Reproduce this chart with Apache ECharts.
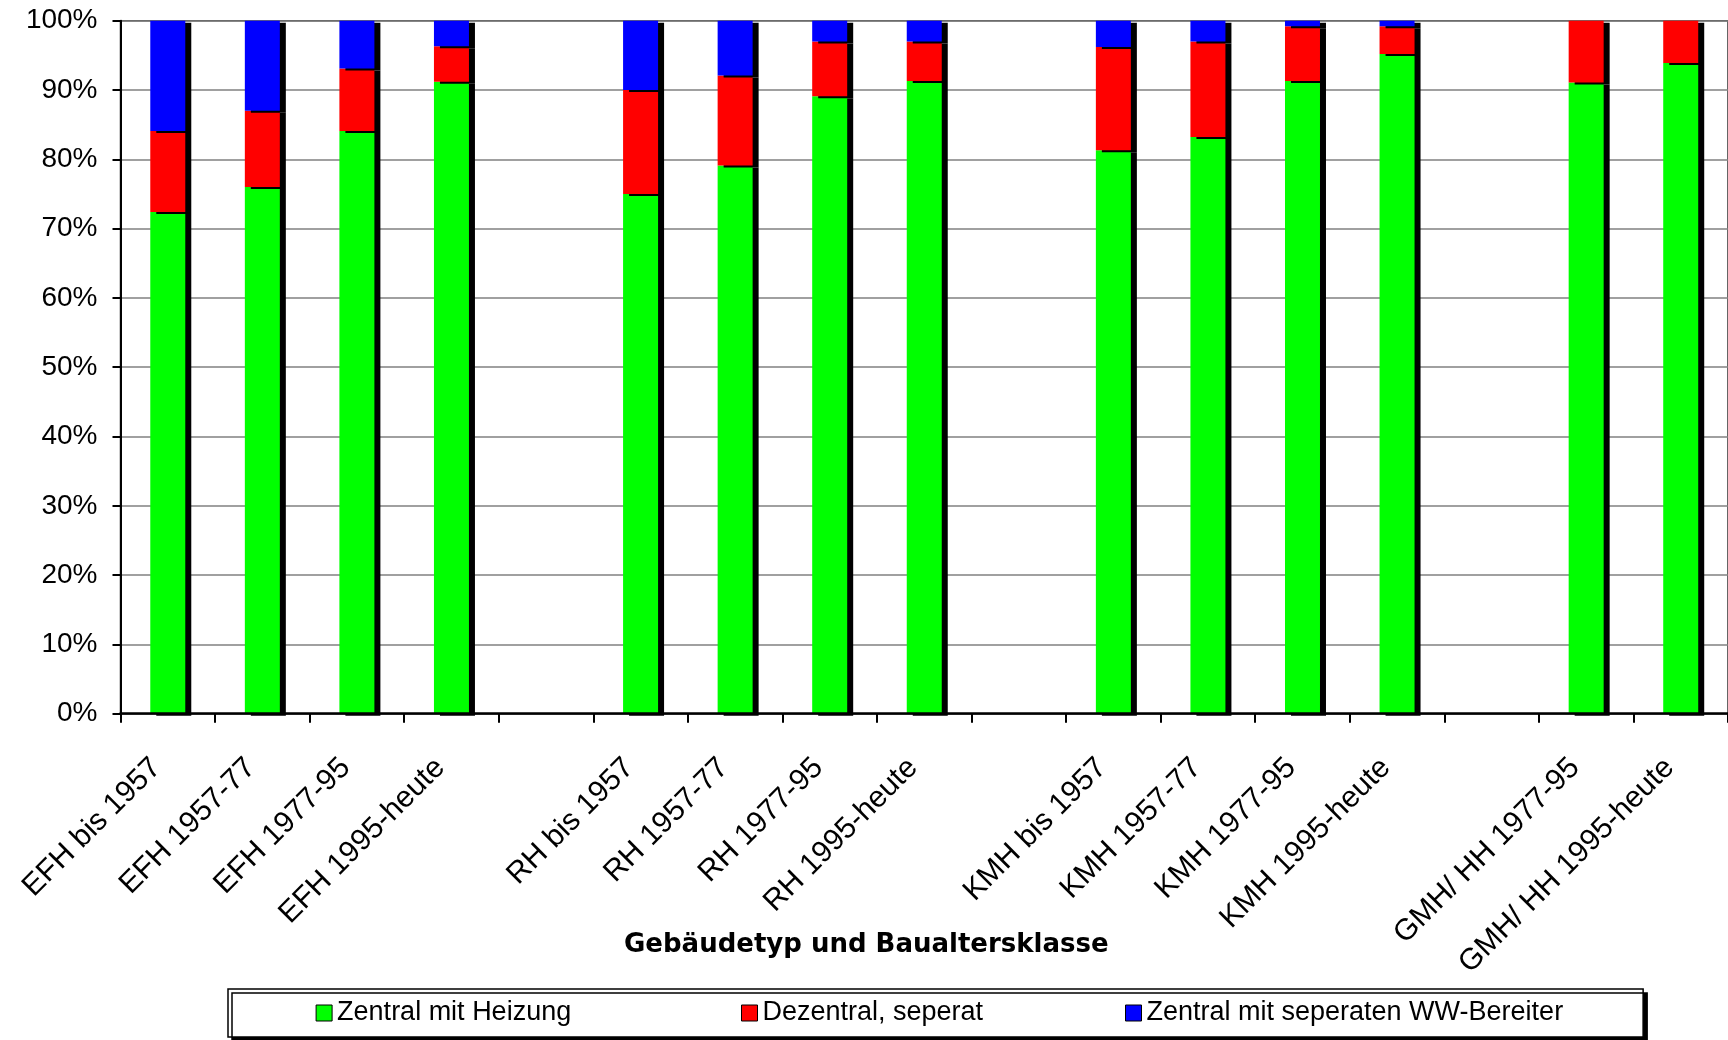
<!DOCTYPE html>
<html>
<head>
<meta charset="utf-8">
<title>Warmwasserbereitung nach Gebäudetyp und Baualtersklasse</title>
<script src="https://cdn.jsdelivr.net/npm/echarts@6/dist/echarts.min.js"></script>
<style>
  html, body { margin: 0; padding: 0; background: #fff; }
  #chart { width: 1728px; height: 1040px; }
</style>
</head>
<body>
<div id="chart"></div>
<script>
// Building type / construction period; empty slots separate the groups
const categories = [
  'EFH bis 1957', 'EFH 1957-77', 'EFH 1977-95', 'EFH 1995-heute', '',
  'RH bis 1957', 'RH 1957-77', 'RH 1977-95', 'RH 1995-heute', '',
  'KMH bis 1957', 'KMH 1957-77', 'KMH 1977-95', 'KMH 1995-heute', '',
  'GMH/ HH 1977-95', 'GMH/ HH 1995-heute'
];

const seriesNames = [
  'Zentral mit Heizung',
  'Dezentral, seperat',
  'Zentral mit seperaten WW-Bereiter'
];

// Shares in percent
const zentralHeizung = [72.4, 76.0, 84.1, 91.2, null, 75.0, 79.1, 89.1, 91.3, null, 81.3, 83.2, 91.3, 95.2, null, 91.1, 93.9];
const dezentral      = [11.7, 11.0,  9.0,  5.1, null, 15.0, 13.0,  7.9,  5.7, null, 14.9, 13.8,  7.9,  4.0, null,  8.9,  6.1];
const zentralWW      = [15.9, 13.0,  6.9,  3.7, null, 10.0,  7.9,  3.0,  3.0, null,  3.8,  3.0,  0.8,  0.8, null,  0.0,  0.0];

const yTicks = { min: 0, max: 100, interval: 10 };

const colors = ['#00ff00', '#ff0000', '#0000ff'];
const FONT = "'Liberation Sans', Arial, sans-serif";

const chart = echarts.init(document.getElementById('chart'), null, { renderer: 'canvas' });

// Flat bars with a hard black drop shadow to the lower right
function barSeries(name, data, color) {
  return {
    name: name,
    type: 'bar',
    stack: 'anteil',
    barWidth: 35,
    data: data,
    itemStyle: {
      color: color,
      borderWidth: 0,
      shadowColor: '#000',
      shadowBlur: 0,
      shadowOffsetX: 6,
      shadowOffsetY: 2
    },
    emphasis: { disabled: true },
    animation: false
  };
}

chart.setOption({
  animation: false,
  backgroundColor: '#fff',
  title: {
    text: 'Gebäudetyp und Baualtersklasse',
    left: 624,
    top: 932,
    padding: 0,
    textStyle: {
      fontFamily: "'DejaVu Sans', sans-serif",
      fontWeight: 'bold',
      fontSize: 26,
      color: '#000'
    }
  },
  legend: {
    left: 228,
    top: 989,
    orient: 'horizontal',
    padding: [9, 80, 9, 87.6],
    itemGap: 10,
    itemWidth: 16,
    itemHeight: 16,
    icon: 'rect',
    backgroundColor: '#fff',
    borderColor: '#000',
    borderWidth: 1.5,
    borderRadius: 0,
    shadowColor: '#000',
    shadowBlur: 0,
    shadowOffsetX: 4,
    shadowOffsetY: 4,
    itemStyle: {
      borderColor: '#000',
      borderWidth: 1,
      shadowColor: 'rgba(0,0,0,0)',
      shadowOffsetX: 0,
      shadowOffsetY: 0
    },
    textStyle: {
      fontFamily: FONT,
      fontSize: 27,
      lineHeight: 30,
      color: '#000'
    },
    data: [
      { name: seriesNames[0], textStyle: { width: 393.9 } },
      { name: seriesNames[1], textStyle: { width: 352.5 } },
      { name: seriesNames[2] }
    ]
  },
  grid: {
    left: 120.5,
    top: 20.7,
    right: -12.6,
    bottom: 326.3,
    show: true,
    backgroundColor: '#fff',
    borderColor: '#333',
    borderWidth: 1.5,
    containLabel: false
  },
  xAxis: {
    type: 'category',
    data: categories,
    boundaryGap: true,
    z: 3,
    axisLine: { show: true, lineStyle: { color: '#000', width: 2.5 } },
    axisTick: { show: true, interval: 0, length: 9, lineStyle: { color: '#000', width: 2 } },
    axisLabel: {
      interval: 0,
      rotate: 45,
      margin: 38,
      padding: [0, 16, 0, 0],
      fontFamily: FONT,
      fontSize: 30,
      color: '#000'
    },
    splitLine: { show: false }
  },
  yAxis: {
    type: 'value',
    min: yTicks.min,
    max: yTicks.max,
    interval: yTicks.interval,
    axisLine: { show: true, lineStyle: { color: '#000', width: 2 } },
    axisTick: { show: true, length: 8, lineStyle: { color: '#000', width: 2 } },
    axisLabel: {
      formatter: '{value}%',
      margin: 23,
      fontFamily: FONT,
      fontSize: 28,
      color: '#000'
    },
    splitLine: { show: true, lineStyle: { color: '#808080', width: 1.5 } }
  },
  series: [
    barSeries(seriesNames[0], zentralHeizung, colors[0]),
    barSeries(seriesNames[1], dezentral, colors[1]),
    barSeries(seriesNames[2], zentralWW, colors[2])
  ]
});
</script>
</body>
</html>
